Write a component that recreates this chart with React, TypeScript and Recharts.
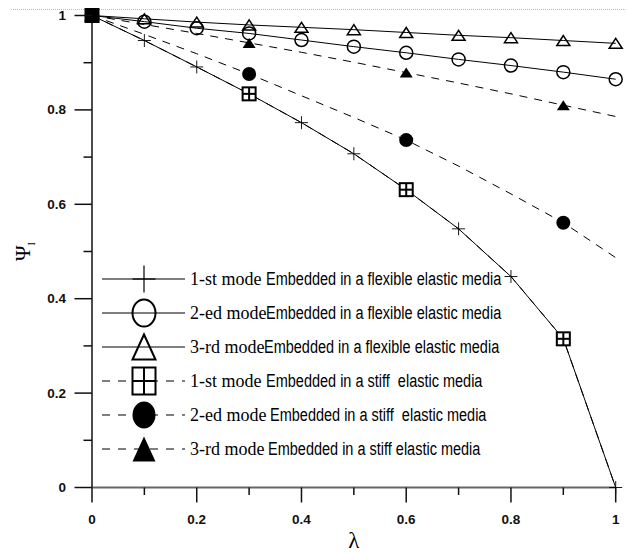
import { LineChart, Line, XAxis, YAxis, Legend } from "recharts";

// lambda values along the x axis
const lambda = [0, 0.1, 0.2, 0.3, 0.4, 0.5, 0.6, 0.7, 0.8, 0.9, 1];

// embedded in a flexible elastic media
const flex1 = [1, 0.947, 0.891, 0.834, 0.773, 0.707, 0.631, 0.548, 0.447, 0.315, 0];
const flex2 = [1, 0.987, 0.973, 0.962, 0.948, 0.934, 0.921, 0.907, 0.894, 0.88, 0.865];
const flex3 = [1, 0.993, 0.986, 0.98, 0.975, 0.97, 0.964, 0.958, 0.953, 0.947, 0.941];

// embedded in a stiff elastic media
const stiff1 = [1, 0.947, 0.891, 0.834, 0.773, 0.707, 0.631, 0.548, 0.447, 0.315, 0];
const stiff2 = [1, 0.96, 0.919, 0.876, 0.83, 0.784, 0.736, 0.681, 0.622, 0.561, 0.487];
const stiff3 = [1, 0.981, 0.962, 0.942, 0.922, 0.901, 0.879, 0.857, 0.834, 0.81, 0.786];

const xTicks = [0, 0.1, 0.2, 0.3, 0.4, 0.5, 0.6, 0.7, 0.8, 0.9, 1];
const xTickLabels = ["0", "", "0.2", "", "0.4", "", "0.6", "", "0.8", "", "1"];
const yTicks = [0, 0.1, 0.2, 0.3, 0.4, 0.5, 0.6, 0.7, 0.8, 0.9, 1];
const yTickLabels = ["0", "", "0.2", "", "0.4", "", "0.6", "", "0.8", "", "1"];

const legendHeads = ["1-st mode", "2-ed mode", "3-rd mode", "1-st mode", "2-ed mode", "3-rd mode"];
const legendTails = [
  " Embedded in a flexible elastic media",
  "Embedded in a flexible elastic media",
  "Embedded in a flexible elastic media",
  " Embedded in a stiff  elastic media",
  " Embedded in a stiff  elastic media",
  " Embedded in a stiff elastic media",
];

// stiff series only mark every third point
const stiffMarked = [0, 3, 6, 9];

const data = lambda.map((x, i) => ({
  x,
  f1: flex1[i],
  f2: flex2[i],
  f3: flex3[i],
  s1: stiff1[i],
  s2: stiff2[i],
  s3: stiff3[i],
}));

type Shape = "plus" | "circle" | "triangle" | "square" | "disc" | "solidTriangle";

const shapes: Shape[] = ["plus", "circle", "triangle", "square", "disc", "solidTriangle"];

const Marker = ({
  cx,
  cy,
  shape,
  w,
  h,
  sw,
  solid,
}: {
  cx: number;
  cy: number;
  shape: Shape;
  w: number;
  h: number;
  sw: number;
  solid?: boolean;
}) => {
  switch (shape) {
    case "plus":
      return (
        <g stroke="#000" strokeWidth={sw * 0.6}>
          <line x1={cx - w / 2} x2={cx + w / 2} y1={cy} y2={cy} />
          <line x1={cx} x2={cx} y1={cy - h / 2} y2={cy + h / 2} />
        </g>
      );
    case "circle":
      return <ellipse cx={cx} cy={cy} rx={w / 2} ry={h / 2} fill="none" stroke="#000" strokeWidth={sw} />;
    case "triangle":
      return (
        <polygon
          points={`${cx},${cy - h / 2} ${cx - w / 2},${cy + h / 2} ${cx + w / 2},${cy + h / 2}`}
          fill="none"
          stroke="#000"
          strokeWidth={sw}
        />
      );
    case "square":
      return (
        <g stroke="#000" strokeWidth={sw}>
          <rect x={cx - w / 2} y={cy - h / 2} width={w} height={h} fill={solid ? "#000" : "#fff"} />
          <line x1={cx - w / 2} x2={cx + w / 2} y1={cy} y2={cy} />
          <line x1={cx} x2={cx} y1={cy - h / 2} y2={cy + h / 2} />
        </g>
      );
    case "disc":
      return <ellipse cx={cx} cy={cy} rx={w / 2} ry={h / 2} fill="#000" />;
    case "solidTriangle":
      return (
        <polygon
          points={`${cx},${cy - h / 2} ${cx - w / 2},${cy + h / 2} ${cx + w / 2},${cy + h / 2}`}
          fill="#000"
        />
      );
  }
  return null;
};

const plotDot = (shape: Shape, every: boolean) => (props: any) => {
  const { cx, cy, index } = props;
  if (!every && !stiffMarked.includes(index)) return <g key={`d-${shape}-${index}`} />;
  const big = shape === "disc";
  const tri = shape === "triangle" || shape === "solidTriangle";
  return (
    <g key={`d-${shape}-${index}`}>
      <Marker
        cx={cx}
        cy={cy}
        shape={shape}
        w={big ? 14 : 13}
        h={tri ? 10 : big ? 14 : 13}
        sw={shape === "square" ? 2 : 1.5}
        solid={index === 0}
      />
    </g>
  );
};

const tickFont = {
  fontFamily: "Liberation Sans, Arial",
  fontSize: 13.5,
  fontWeight: 700,
  fill: "#111",
};

const XTick = (props: any) => {
  const { x, y, index } = props;
  const label = xTickLabels[index];
  const major = label !== "";
  return (
    <g>
      <line x1={x} x2={x} y1={y} y2={y + (major ? 15 : 7.5)} stroke="#111" strokeWidth={1.5} />
      {major && (
        <text x={x} y={y + 31.5} textAnchor="middle" dominantBaseline="central" {...tickFont}>
          {label}
        </text>
      )}
    </g>
  );
};

const YTick = (props: any) => {
  const { x, y, index } = props;
  const label = yTickLabels[index];
  const major = label !== "";
  return (
    <g>
      <line x1={x - (major ? 17.5 : 8.5)} x2={x} y1={y} y2={y} stroke="#111" strokeWidth={1.5} />
      {major && (
        <text x={x - 26} y={y} textAnchor="end" dominantBaseline="central" {...tickFont}>
          {label}
        </text>
      )}
    </g>
  );
};

const XTitle = (props: any) => {
  const { viewBox } = props;
  return (
    <text
      x={viewBox.x + viewBox.width / 2}
      y={548}
      textAnchor="middle"
      fontFamily="Liberation Serif, Times New Roman"
      fontSize={23}
      fill="#000"
    >
      λ
    </text>
  );
};

const YTitle = (props: any) => {
  const { viewBox } = props;
  const cy = viewBox.y + viewBox.height / 2;
  return (
    <text
      transform={`translate(30, ${cy}) rotate(-90)`}
      textAnchor="middle"
      fontFamily="Liberation Serif, Times New Roman"
      fontSize={21}
      fill="#000"
    >
      Ψ
      <tspan fontSize={10} dy={5}>
        I
      </tspan>
    </text>
  );
};

const LegendBox = () => (
  <div>
    {legendHeads.map((head, i) => {
      const dashed = i >= 3;
      const shape = shapes[i];
      const tri = shape === "triangle" || shape === "solidTriangle";
      return (
        <div key={head + i} style={{ display: "flex", alignItems: "center", height: 34 }}>
          <svg width={90} height={34} style={{ flex: "none" }}>
            <line
              x1={2}
              x2={85}
              y1={17}
              y2={17}
              stroke="#555"
              strokeWidth={1.5}
              strokeDasharray={dashed ? "8 8" : undefined}
            />
            <Marker cx={44} cy={17} shape={shape} w={23} h={tri ? 25 : 27} sw={2} />
          </svg>
          <span
            style={{
              fontFamily: "Liberation Serif, Times New Roman",
              fontSize: 18,
              whiteSpace: "pre",
              color: "#000",
            }}
          >
            {head}
          </span>
          <span
            style={{
              display: "inline-block",
              fontFamily: "Liberation Sans, Arial",
              fontSize: 18,
              whiteSpace: "pre",
              transform: "scaleX(0.805)",
              transformOrigin: "left center",
              color: "#000",
            }}
          >
            {legendTails[i]}
          </span>
        </div>
      );
    })}
  </div>
);

export default function App() {
  return (
    <div style={{ position: "absolute", left: 0, top: 0, width: 626, height: 553, background: "#fff" }}>
      <div
        style={{
          position: "absolute",
          left: 11,
          right: 0,
          top: 9,
          borderTop: "1px dotted #bbb",
        }}
      />
      <LineChart
        width={626}
        height={553}
        data={data}
        margin={{ top: 15.5, right: 10.3, bottom: 0, left: 0 }}
      >
        <XAxis
          dataKey="x"
          type="number"
          domain={[0, 1]}
          ticks={xTicks}
          interval={0}
          height={65.5}
          tickSize={0}
          tickMargin={0}
          tickLine={false}
          axisLine={{ stroke: "#666", strokeWidth: 2 }}
          tick={<XTick />}
          label={<XTitle />}
        />
        <YAxis
          type="number"
          domain={[0, 1]}
          ticks={yTicks}
          interval={0}
          width={92}
          tickSize={0}
          tickMargin={0}
          tickLine={false}
          axisLine={{ stroke: "#111", strokeWidth: 1.5 }}
          tick={<YTick />}
          label={<YTitle />}
        />
        <Legend
          layout="vertical"
          align="center"
          verticalAlign="middle"
          content={<LegendBox />}
          wrapperStyle={{ left: 100, top: 262, width: 460, height: 204 }}
        />
        <Line dataKey="f1" stroke="#000" strokeWidth={1} dot={plotDot("plus", true)} isAnimationActive={false} />
        <Line dataKey="f2" stroke="#000" strokeWidth={1} dot={plotDot("circle", true)} isAnimationActive={false} />
        <Line dataKey="f3" stroke="#000" strokeWidth={1} dot={plotDot("triangle", true)} isAnimationActive={false} />
        <Line
          dataKey="s1"
          stroke="#000"
          strokeWidth={1}
          strokeDasharray="8 7"
          dot={plotDot("square", false)}
          isAnimationActive={false}
        />
        <Line
          dataKey="s2"
          stroke="#000"
          strokeWidth={1}
          strokeDasharray="8 7"
          dot={plotDot("disc", false)}
          isAnimationActive={false}
        />
        <Line
          dataKey="s3"
          stroke="#000"
          strokeWidth={1}
          strokeDasharray="8 7"
          dot={plotDot("solidTriangle", false)}
          isAnimationActive={false}
        />
      </LineChart>
    </div>
  );
}
